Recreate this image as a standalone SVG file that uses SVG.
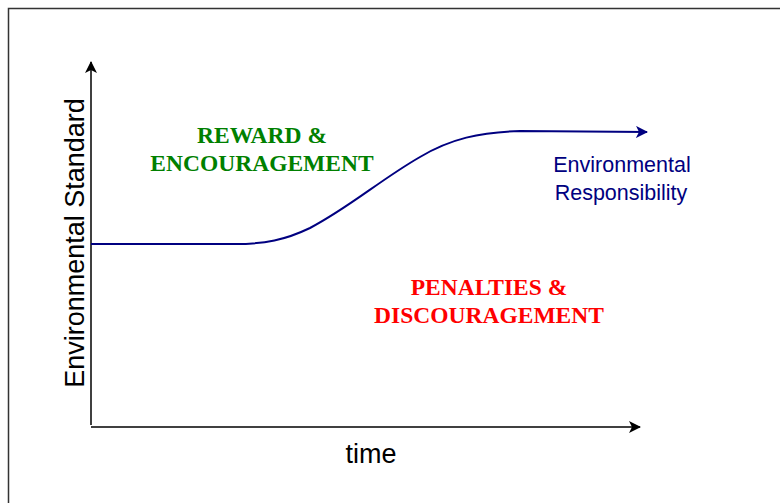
<svg xmlns="http://www.w3.org/2000/svg" width="780" height="503" viewBox="0 0 780 503">
<defs>
<style>
.ax{stroke:#000;stroke-width:1.5;fill:none}
.sans{font-family:"Liberation Sans",Arial,sans-serif}
.serif{font-family:"Liberation Serif","Times New Roman",serif;font-weight:bold;font-size:23.5px;text-anchor:middle}
</style>
<marker id="ah" viewBox="0 0 12 12" refX="11" refY="6" markerWidth="12" markerHeight="12" markerUnits="userSpaceOnUse" orient="auto">
<path d="M0,0 L12,6 L0,12 L3,6 Z" fill="#000"/>
</marker>
<marker id="ahb" viewBox="0 0 12 12" refX="11" refY="6" markerWidth="12" markerHeight="12" markerUnits="userSpaceOnUse" orient="auto">
<path d="M0,0 L12,6 L0,12 L3,6 Z" fill="#000080"/>
</marker>
</defs>
<rect x="0" y="0" width="780" height="503" fill="#fff"/>
<path d="M8.5,503 V8.5 H780" stroke="#333" stroke-width="1.5" fill="none"/>
<g id="connectors">
<path class="ax" d="M91,425 V62" marker-end="url(#ah)"/>
<path class="ax" d="M91,427 H640" marker-end="url(#ah)"/>
<path d="M91,244 L235,244 C265,244 285,240 310,228 C350,207 380,180 420,157 C450,139 480,132 520,131 L647,132" stroke="#000080" stroke-width="2" fill="none" marker-end="url(#ahb)"/>
</g>
<g id="y-label"><text class="sans" font-size="27" text-anchor="middle" transform="translate(84,243) rotate(-90)">Environmental Standard</text></g>
<g id="x-label"><text class="sans" font-size="27" x="371" y="463" text-anchor="middle">time</text></g>
<g id="reward"><text class="serif" fill="#008000"><tspan x="262" y="143">REWARD &amp;</tspan><tspan x="262" y="171">ENCOURAGEMENT</tspan></text></g>
<g id="penalties"><text class="serif" fill="#ff0000"><tspan x="489" y="295">PENALTIES &amp;</tspan><tspan x="489" y="323">DISCOURAGEMENT</tspan></text></g>
<g id="responsibility"><text class="sans" font-size="21.5" fill="#000080" text-anchor="middle"><tspan x="622" y="172">Environmental</tspan><tspan x="621" y="200">Responsibility</tspan></text></g>
</svg>
